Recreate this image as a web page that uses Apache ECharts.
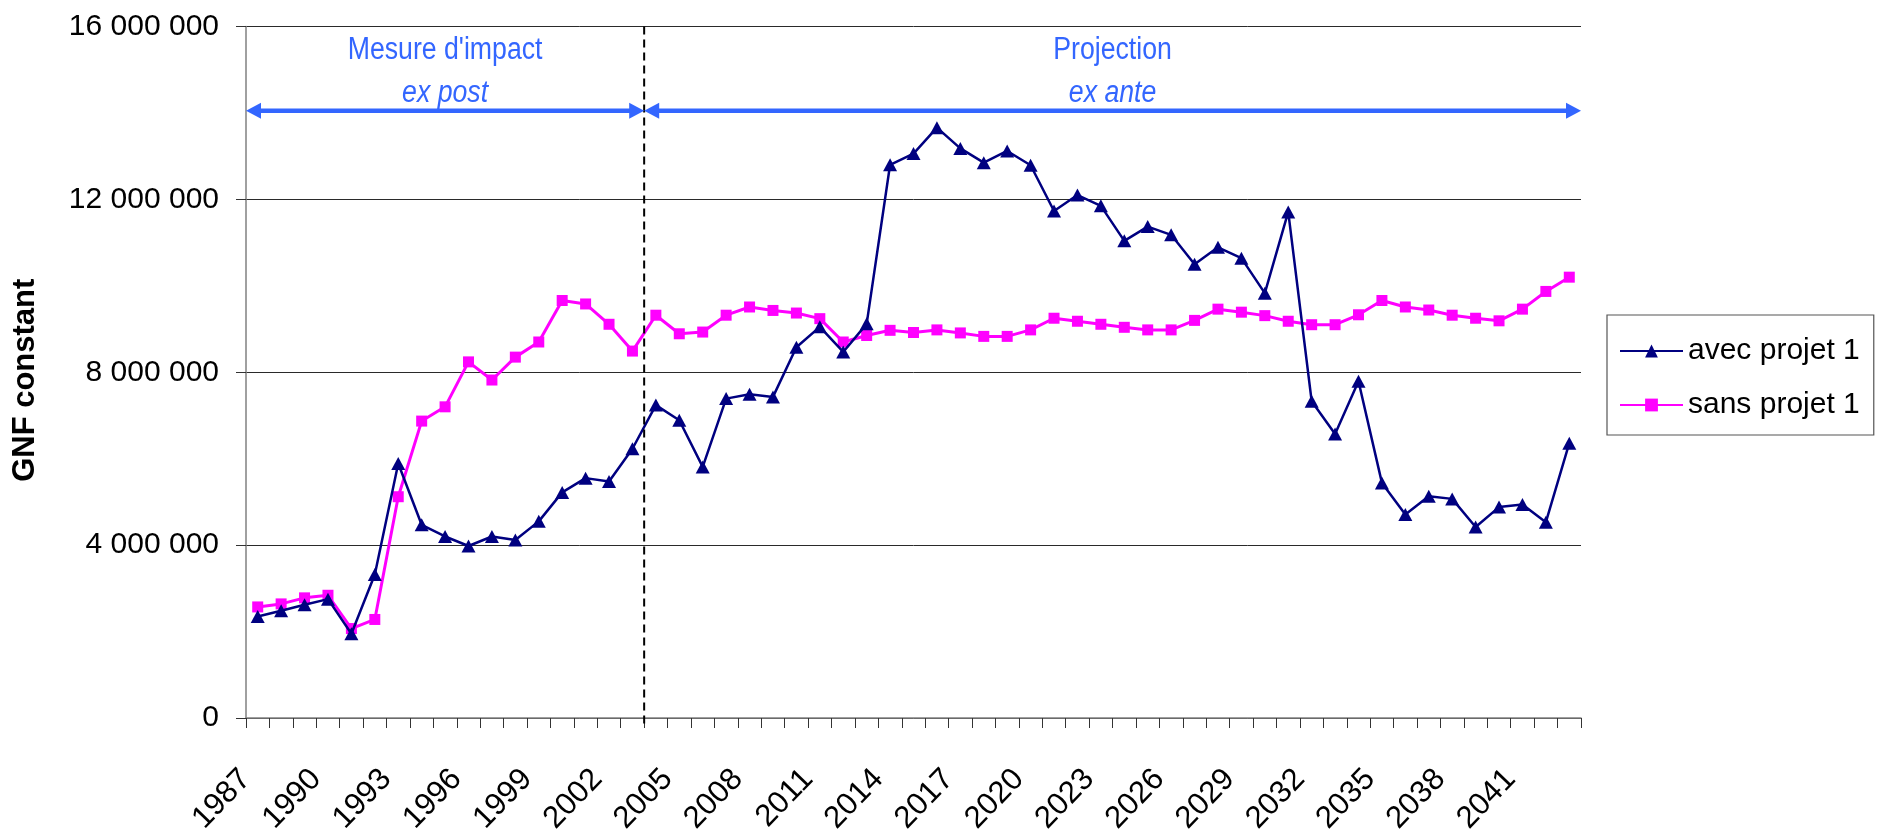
<!DOCTYPE html>
<html>
<head>
<meta charset="utf-8">
<script src="https://cdn.jsdelivr.net/npm/echarts@6/dist/echarts.min.js"></script>
<style>
html,body{margin:0;padding:0;background:#fff;}
#chart{width:1885px;height:837px;}
</style>
</head>
<body>
<div id="chart"></div>
<script>
const years = [1987,1988,1989,1990,1991,1992,1993,1994,1995,1996,1997,1998,1999,2000,2001,2002,2003,2004,2005,2006,2007,2008,2009,2010,2011,2012,2013,2014,2015,2016,2017,2018,2019,2020,2021,2022,2023,2024,2025,2026,2027,2028,2029,2030,2031,2032,2033,2034,2035,2036,2037,2038,2039,2040,2041,2042,2043];
const avecProjet = [2350000,2480000,2620000,2750000,1950000,3320000,5890000,4470000,4200000,3980000,4200000,4120000,4550000,5220000,5550000,5470000,6230000,7240000,6890000,5810000,7390000,7490000,7430000,8580000,9050000,8470000,9120000,12800000,13060000,13660000,13180000,12850000,13120000,12790000,11730000,12100000,11850000,11040000,11370000,11180000,10500000,10890000,10640000,9830000,11710000,7330000,6570000,7790000,5440000,4710000,5130000,5070000,4420000,4880000,4940000,4530000,6360000];
const sansProjet = [2570000,2640000,2780000,2840000,2070000,2280000,5120000,6870000,7200000,8240000,7820000,8350000,8700000,9660000,9580000,9110000,8490000,9320000,8890000,8930000,9320000,9510000,9430000,9370000,9240000,8700000,8850000,8970000,8920000,8980000,8910000,8830000,8830000,8980000,9250000,9180000,9110000,9040000,8980000,8980000,9200000,9460000,9390000,9310000,9180000,9100000,9100000,9330000,9660000,9510000,9440000,9320000,9250000,9190000,9460000,9870000,10200000];
const seriesNames = ['avec projet 1','sans projet 1'];
const yTicks = {min:0, max:16000000, interval:4000000};
const periodLabels = [['Mesure d\'impact','ex post'],['Projection','ex ante']];
const arrowLevel = 14050000;      // vertical level of the period arrows
const splitIndex = 17;            // period boundary lies before this category

const FONT = '"Liberation Sans", Arial, sans-serif';
const chart = echarts.init(document.getElementById('chart'));

function fmt(v){ return String(v).replace(/\B(?=(\d{3})+(?!\d))/g,' '); }

chart.setOption({
  animation:false,
  backgroundColor:'#fff',
  textStyle:{fontFamily:FONT},
  grid:{left:246, right:304, top:26.5, bottom:119, containLabel:false, outerBoundsMode:'none'},
  xAxis:{
    type:'category', data:years, boundaryGap:true,
    axisLine:{lineStyle:{color:'#808080', width:1.5}},
    axisTick:{show:true, interval:0, length:10, lineStyle:{color:'#333'}},
    axisLabel:{interval:2, rotate:46, margin:44, padding:[0,17,0,0], fontSize:31, color:'#000', fontFamily:FONT, hideOverlap:false},
    splitLine:{show:false}
  },
  yAxis:{
    type:'value', min:yTicks.min, max:yTicks.max, interval:yTicks.interval,
    name:'GNF constant', nameLocation:'middle', nameRotate:90, nameGap:205,
    nameTextStyle:{fontSize:31, fontWeight:'bold', color:'#000', fontFamily:FONT, padding:[0,16,0,0]},
    axisLine:{show:true, lineStyle:{color:'#808080', width:1.5}},
    axisTick:{show:true, length:10, lineStyle:{color:'#333'}},
    axisLabel:{formatter:fmt, fontSize:30, color:'#000', margin:27, fontFamily:FONT},
    splitLine:{show:true, lineStyle:{color:'#2a2a2a', width:1}}
  },
  legend:{
    orient:'vertical', left:1607, top:315,
    padding:[20,14,14,12], itemGap:22, itemWidth:63, itemHeight:16,
    borderColor:'#555', borderWidth:1.2, backgroundColor:'#fff',
    textStyle:{fontSize:30, color:'#000', fontFamily:FONT, lineHeight:32},
    data:seriesNames
  },
  series:[
    {name:seriesNames[0], type:'line', data:avecProjet, symbol:'triangle', symbolSize:[14,13],
     lineStyle:{color:'#000080', width:2.5}, itemStyle:{color:'#000080'}, z:3},
    {name:seriesNames[1], type:'line', data:sansProjet, symbol:'rect', symbolSize:[11,11],
     lineStyle:{color:'#FF00FF', width:3}, itemStyle:{color:'#FF00FF'}, z:2}
  ]
});

function arrowHead(x, y, dir, color){
  // dir = +1 pointing right, -1 pointing left
  const L = 15, H = 8;
  return {type:'polygon', shape:{points:[[x,y],[x-dir*L,y-H],[x-dir*L,y+H]]}, style:{fill:color}, z:10};
}

function drawAnnotations(){
  const g0 = chart.convertToPixel({xAxisIndex:0}, 0);
  const g1 = chart.convertToPixel({xAxisIndex:0}, 1);
  const step = g1 - g0;
  const left = g0 - step/2;
  const right = chart.convertToPixel({xAxisIndex:0}, years.length-1) + step/2;
  const xb = chart.convertToPixel({xAxisIndex:0}, splitIndex) - step/2;
  const ya = chart.convertToPixel({yAxisIndex:0}, arrowLevel);
  const ytop = chart.convertToPixel({yAxisIndex:0}, yTicks.max);
  const ybot = chart.convertToPixel({yAxisIndex:0}, yTicks.min);
  const blue = '#3366FF';
  const els = [];
  els.push({type:'line', shape:{x1:xb, y1:ytop, x2:xb, y2:ybot+6}, style:{stroke:'#000', lineWidth:2, lineDash:[8,5]}, z:9});
  els.push({type:'line', shape:{x1:left+12, y1:ya, x2:xb-12, y2:ya}, style:{stroke:blue, lineWidth:4.5}, z:10});
  els.push(arrowHead(left, ya, -1, blue));
  els.push(arrowHead(xb, ya, 1, blue));
  els.push({type:'line', shape:{x1:xb+12, y1:ya, x2:right-12, y2:ya}, style:{stroke:blue, lineWidth:4.5}, z:10});
  els.push(arrowHead(xb, ya, -1, blue));
  els.push(arrowHead(right, ya, 1, blue));
  const cx1 = (left + xb)/2, cx2 = (xb + right)/2;
  [[cx1, periodLabels[0]],[cx2, periodLabels[1]]].forEach(([cx, lab])=>{
    els.push({type:'text', x:cx, y:ya-60, scaleX:0.86, style:{text:lab[0], fill:blue, font:'31px '+FONT, textAlign:'center', textVerticalAlign:'middle'}, z:10});
    els.push({type:'text', x:cx, y:ya-17, scaleX:0.86, style:{text:lab[1], fill:blue, font:'italic 31px '+FONT, textAlign:'center', textVerticalAlign:'middle'}, z:10});
  });
  chart.setOption({graphic:{elements:els}});
}
drawAnnotations();
</script>
</body>
</html>
